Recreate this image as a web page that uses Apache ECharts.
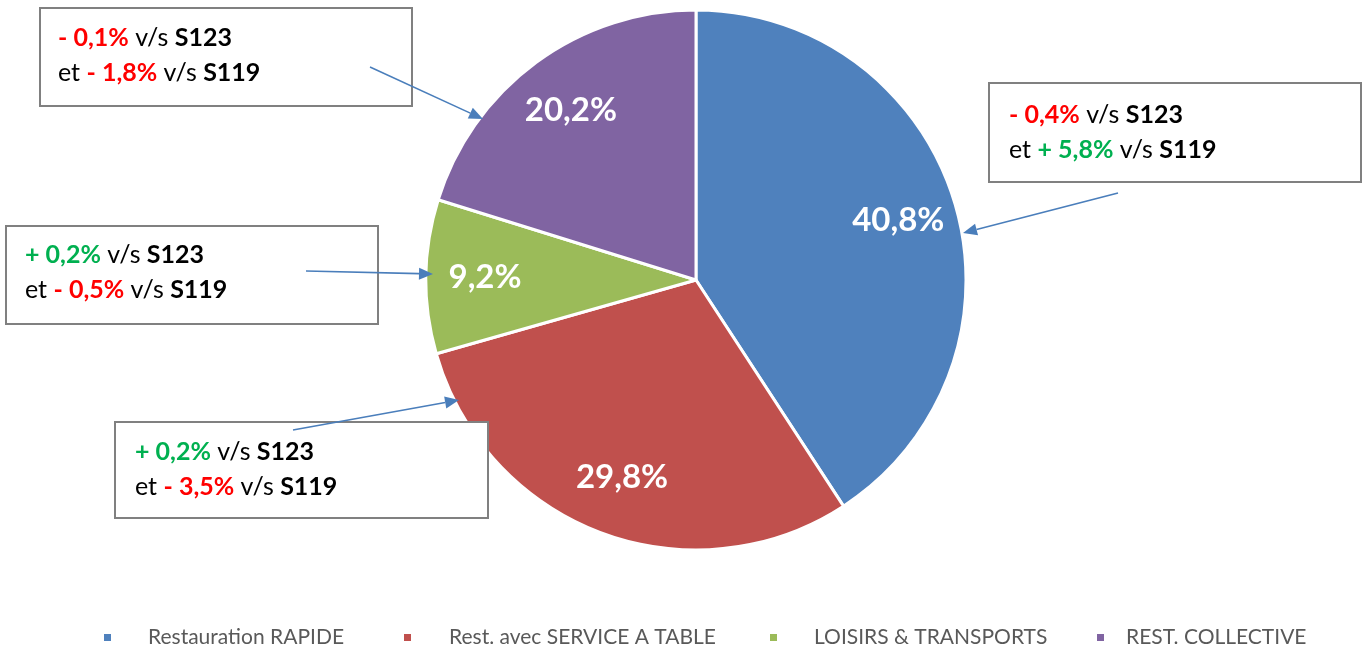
<!DOCTYPE html>
<html>
<head>
<meta charset="utf-8">
<script src="https://cdn.jsdelivr.net/npm/echarts@6/dist/echarts.min.js"></script>
<style>
html,body{margin:0;padding:0;background:#fff;}
#chart{width:1366px;height:648px;}
</style>
</head>
<body>
<div id="chart"></div>
<script>
// ---- data ----
const categories = ['Restauration RAPIDE', 'Rest. avec SERVICE A TABLE', 'LOISIRS & TRANSPORTS', 'REST. COLLECTIVE'];
const shares = [40.8, 29.8, 9.2, 20.2];
const vsS123 = ['- 0,4%', '+ 0,2%', '+ 0,2%', '- 0,1%'];
const vsS119 = ['+ 5,8%', '- 3,5%', '- 0,5%', '- 1,8%'];
const colors = ['#4F81BD', '#C0504D', '#9BBB59', '#8064A2'];

// ---- annotation layout (boxes, texts, arrows) ----
const boxes = [
  {rect: [989, 83, 372, 99], tx: 1009, ty: 97,  arrow: [1118, 193, 963, 233]},
  {rect: [115, 422, 373, 96], tx: 135, ty: 434, arrow: [293, 430, 459, 400]},
  {rect: [6, 226, 372, 98],  tx: 25,  ty: 237, arrow: [306, 271, 433, 274]},
  {rect: [40, 8, 372, 98],   tx: 58,  ty: 20,  arrow: [370, 67, 483, 119]}
];

const FONT = 'Lato, "Open Sans", sans-serif';
const chart = echarts.init(document.getElementById('chart'));

function fmt(v) { return v.toFixed(1).replace('.', ',') + '%'; }
function sty(s) { return s.charAt(0) === '+' ? 'g' : 'r'; }

const graphics = [];
boxes.forEach(function (b, i) {
  graphics.push({
    type: 'rect', z: 100,
    shape: {x: b.rect[0], y: b.rect[1], width: b.rect[2], height: b.rect[3]},
    style: {fill: '#fff', stroke: '#808080', lineWidth: 2}
  });
  const txt = '{' + sty(vsS123[i]) + '|' + vsS123[i] + '}{n| v/s }{b|S123}\n' +
              '{n|et }{' + sty(vsS119[i]) + '|' + vsS119[i] + '}{n| v/s }{b|S119}';
  const base = {fontFamily: FONT, fontSize: 25, lineHeight: 35};
  graphics.push({
    type: 'text', z: 101, x: b.tx, y: b.ty,
    style: {
      text: txt, verticalAlign: 'top', align: 'left',
      font: '25px ' + FONT,
      rich: {
        n: Object.assign({fill: '#000'}, base),
        b: Object.assign({fill: '#000', fontWeight: 'bold'}, base),
        r: Object.assign({fill: '#FF0000', fontWeight: 'bold'}, base),
        g: Object.assign({fill: '#00B050', fontWeight: 'bold'}, base)
      }
    }
  });
  const a = b.arrow;
  const ang = Math.atan2(a[3] - a[1], a[2] - a[0]);
  const L = 14, W = 6;
  const bx = a[2] - L * Math.cos(ang), by = a[3] - L * Math.sin(ang);
  graphics.push({
    type: 'line', z: 102,
    shape: {x1: a[0], y1: a[1], x2: bx, y2: by},
    style: {stroke: '#4A7EBB', lineWidth: 1.6}
  });
  graphics.push({
    type: 'polygon', z: 102,
    shape: {points: [
      [a[2], a[3]],
      [bx + W * Math.sin(ang), by - W * Math.cos(ang)],
      [bx - W * Math.sin(ang), by + W * Math.cos(ang)]
    ]},
    style: {fill: '#4A7EBB'}
  });
});

const pieData = categories.map(function (c, i) {
  return {name: c, value: shares[i], itemStyle: {color: colors[i]}};
});

const legendLeft = [102, 402, 768, 1095];
const legendPad = [31, 32, 31, 16];
const legends = categories.map(function (c, i) {
  return {
    left: legendLeft[i], top: 627, padding: 0,
    icon: 'rect', itemWidth: 9, itemHeight: 9,
    selectedMode: false,
    data: [{name: c, itemStyle: {color: colors[i]}}],
    textStyle: {color: '#595959', fontSize: 21, fontFamily: FONT, padding: [0, 0, 0, legendPad[i]]}
  };
});

chart.setOption({
  backgroundColor: '#fff',
  animation: false,
  legend: legends,
  series: [
    {
      type: 'pie', center: [696, 280], radius: [0, 270],
      startAngle: 90, clockwise: true,
      label: {show: false}, labelLine: {show: false},
      itemStyle: {borderColor: '#fff', borderWidth: 3},
      emphasis: {disabled: true},
      data: pieData
    },
    {
      type: 'pie', center: [696, 280], radius: [146, 270],
      startAngle: 90, clockwise: true, silent: true,
      itemStyle: {color: 'transparent', borderWidth: 0},
      label: {
        show: true, position: 'inside',
        formatter: function (p) { return fmt(p.value); },
        color: '#fff', fontSize: 33, fontWeight: 'bold', fontFamily: FONT
      },
      labelLine: {show: false},
      emphasis: {disabled: true},
      data: categories.map(function (c, i) { return {name: c, value: shares[i]}; })
    }
  ],
  graphic: {elements: graphics}
});
</script>
</body>
</html>
